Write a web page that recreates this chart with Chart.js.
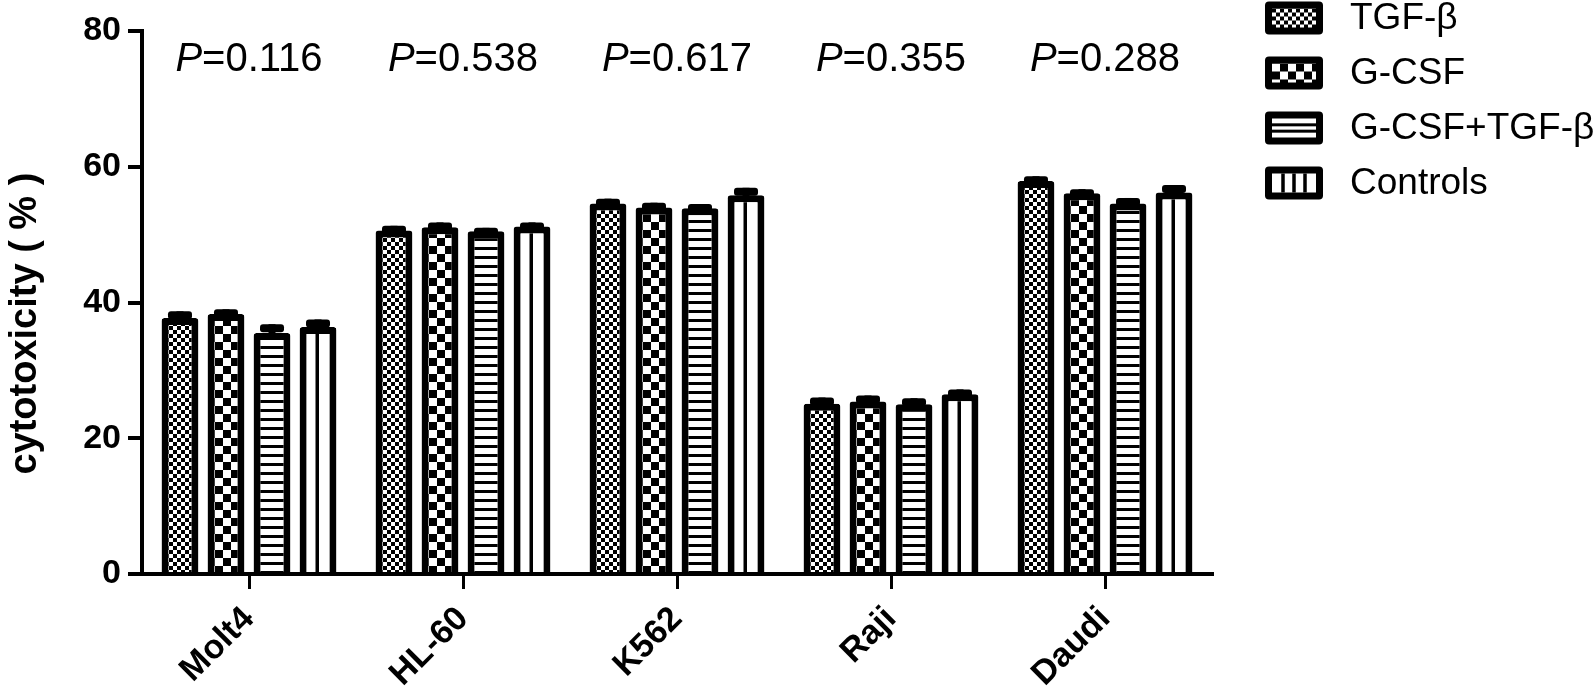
<!DOCTYPE html>
<html><head><meta charset="utf-8">
<script src="https://cdn.jsdelivr.net/npm/chart.js@4.4.1/dist/chart.umd.min.js"></script>
<style>html,body{margin:0;padding:0;background:#fff;overflow:hidden}</style>
</head><body>
<canvas id="c" width="1594" height="692"></canvas>
<script>
const categories = ['Molt4', 'HL-60', 'K562', 'Raji', 'Daudi'];
const seriesNames = ['TGF-β', 'G-CSF', 'G-CSF+TGF-β', 'Controls'];
const tgfValues = [37.7, 50.6, 54.6, 25.1, 57.9];
const gcsfValues = [38.3, 51.1, 54.0, 25.4, 56.1];
const comboValues = [35.5, 50.5, 53.9, 25.0, 54.6];
const controlValues = [36.4, 51.2, 55.8, 26.5, 56.2];
const tgfErrors = [1.0, 0.7, 0.7, 0.9, 0.7];
const gcsfErrors = [0.7, 0.7, 0.7, 0.9, 0.6];
const comboErrors = [1.3, 0.5, 0.6, 0.9, 0.8];
const controlErrors = [1.1, 0.6, 1.1, 0.7, 1.1];
const pValues = ['0.116', '0.538', '0.617', '0.355', '0.288'];
const yTicks = [0, 20, 40, 60, 80];

const FAMILY = '"Liberation Sans", Arial, Helvetica, sans-serif';
Chart.defaults.font.family = FAMILY;
const CAT_PCT = 0.86, BAR_PCT = 0.80, BORDER = 7;

function tile(w, h, draw) {
  const c = document.createElement('canvas'); c.width = w; c.height = h;
  const g = c.getContext('2d'); g.fillStyle = '#fff'; g.fillRect(0, 0, w, h); g.fillStyle = '#000'; draw(g); return c;
}
const tiles = [
  tile(8, 8, g => { g.fillRect(0, 0, 4, 4); g.fillRect(4, 4, 4, 4); }),
  tile(16, 16, g => { g.fillRect(8, 0, 8, 8); g.fillRect(0, 8, 8, 8); }),
  tile(8, 9, g => { g.fillRect(0, 6, 8, 3); }),
  tile(200, 8, g => { g.fillRect(0, 0, 2, 8); g.fillRect(198.5, 0, 1.5, 8); })
];
const seriesValues = [tgfValues, gcsfValues, comboValues, controlValues];
const seriesErrors = [tgfErrors, gcsfErrors, comboErrors, controlErrors];

function patternAt(ctx2d, k, tx, ty) {
  const p = ctx2d.createPattern(tiles[k], 'repeat');
  p.setTransform(new DOMMatrix([1, 0, 0, 1, tx, ty]));
  return p;
}
function bgFor(k) {
  return (c) => {
    const chart = c.chart;
    const xs = chart.scales.x, ys = chart.scales.y;
    if (c.type !== 'data' || !xs || !ys) return '#fff';
    const catW = xs.width / categories.length;
    const pitch = catW * CAT_PCT / 4;
    const bw = pitch * BAR_PCT;
    const cx = xs.getPixelForValue(c.dataIndex) + (c.datasetIndex - 1.5) * pitch;
    const left = cx - bw / 2 + BORDER;
    if (k === 3) return patternAt(chart.ctx, 3, Math.round(cx) - 1, 0);
    return patternAt(chart.ctx, k, Math.round(left), Math.round(ys.bottom));
  };
}

function rr(g, x, y, w, h, r) {
  g.beginPath(); g.moveTo(x + r, y); g.lineTo(x + w - r, y); g.quadraticCurveTo(x + w, y, x + w, y + r);
  g.lineTo(x + w, y + h - r); g.quadraticCurveTo(x + w, y + h, x + w - r, y + h); g.lineTo(x + r, y + h);
  g.quadraticCurveTo(x, y + h, x, y + h - r); g.lineTo(x, y + r); g.quadraticCurveTo(x, y, x + r, y); g.closePath(); g.fill();
}

const extras = {
  id: 'extras',
  afterDatasetsDraw(chart) {
    const g = chart.ctx, ys = chart.scales.y, xs = chart.scales.x;
    g.save(); g.fillStyle = '#000';
    chart.data.datasets.forEach((ds, di) => {
      const meta = chart.getDatasetMeta(di);
      meta.data.forEach((el, i) => {
        const yTop = ys.getPixelForValue(seriesValues[di][i] + seriesErrors[di][i]);
        g.fillRect(el.x - 3.5, yTop, 7, el.y - yTop + 6);
        rr(g, el.x - 12, yTop, 24, 8, 3);
      });
    });
    // P value labels
    g.textBaseline = 'middle';
    categories.forEach((c, i) => {
      const x = xs.getPixelForValue(i);
      g.font = 'italic 40px ' + FAMILY; const wP = g.measureText('P').width;
      g.font = '40px ' + FAMILY; const rest = '=' + pValues[i]; const wR = g.measureText(rest).width;
      const x0 = x - (wP + wR) / 2;
      g.font = 'italic 40px ' + FAMILY; g.textAlign = 'left'; g.fillText('P', x0, 60);
      g.font = '40px ' + FAMILY; g.fillText(rest, x0 + wP, 60);
    });
    // legend
    const lx = 1265, bw = 58, bh = 33;
    seriesNames.forEach((name, k) => {
      const cy = 18 + k * 55, top = cy - bh / 2;
      g.fillStyle = '#000'; rr(g, lx, top, bw, bh, 4);
      const ix = lx + BORDER, iy = top + BORDER, iw = bw - 2 * BORDER, ih = bh - 2 * BORDER;
      if (k === 3) {
        g.fillStyle = '#fff'; g.fillRect(ix, iy, iw, ih);
        g.fillStyle = '#000';
        for (let j = 1; j <= 3; j++) g.fillRect(ix + iw * j / 4 - 1.75, iy, 3.5, ih);
      } else if (k === 2) {
        g.fillStyle = '#fff'; g.fillRect(ix, iy, iw, ih);
        g.fillStyle = '#000';
        for (let j = 1; j <= 2; j++) g.fillRect(ix, iy + ih * j / 3 - 1.5, iw, 3);
      } else {
        g.fillStyle = patternAt(g, k, ix, iy); g.fillRect(ix, iy, iw, ih);
      }
      g.fillStyle = '#000'; g.font = '37px ' + FAMILY; g.textAlign = 'left'; g.textBaseline = 'middle';
      g.fillText(name, 1350, cy + 1);
    });
    g.restore();
  }
};

const datasets = seriesNames.map((name, k) => ({
  label: name,
  data: seriesValues[k],
  backgroundColor: bgFor(k),
  borderColor: '#000',
  borderWidth: BORDER,
  borderRadius: 3,
  categoryPercentage: CAT_PCT,
  barPercentage: BAR_PCT
}));

new Chart(document.getElementById('c'), {
  type: 'bar',
  data: { labels: categories, datasets },
  options: {
    responsive: false, animation: false, events: [],
    layout: { padding: { left: 0, right: 382, top: 31, bottom: 0 } },
    plugins: { legend: { display: false }, tooltip: { enabled: false } },
    scales: {
      x: {
        grid: { display: true, drawOnChartArea: false, offset: false, tickLength: 15, lineWidth: 3, color: '#000' },
        border: { display: true, width: 4, color: '#000' },
        ticks: { color: '#000', font: { size: 34, weight: 'bold' }, minRotation: 45, maxRotation: 45, padding: 10 },
        afterFit: s => { s.height = 118; }
      },
      y: {
        min: 0, max: 80,
        afterBuildTicks: s => { s.ticks = yTicks.map(v => ({ value: v })); },
        ticks: { color: '#000', font: { size: 34, weight: 'bold' }, padding: 7 },
        grid: { drawOnChartArea: false, tickLength: 14, lineWidth: 4, color: '#000' },
        border: { display: true, width: 4, color: '#000' },
        title: { display: true, text: 'cytotoxicity ( % )    ', color: '#000', font: { size: 38, weight: 'bold' }, padding: { top: 3, bottom: 0 } },
        afterFit: s => { s.width = 142; }
      }
    }
  },
  plugins: [extras]
});
</script>
</body></html>
